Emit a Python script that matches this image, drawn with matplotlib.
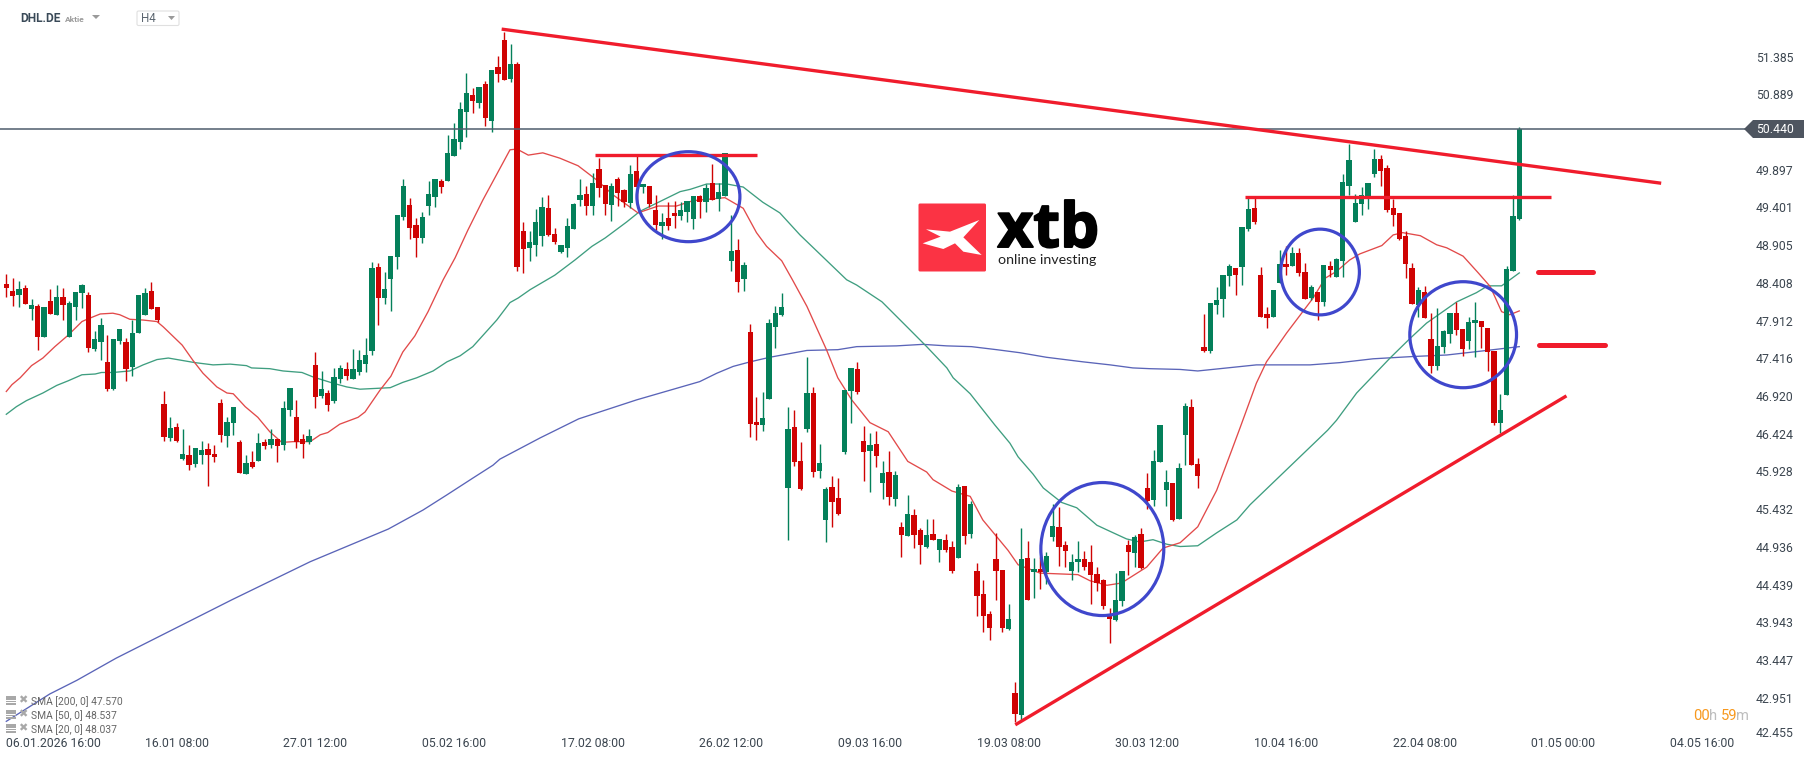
import matplotlib
matplotlib.use('Agg')
import numpy as np
import matplotlib.pyplot as plt
import matplotlib.patheffects as pe
from matplotlib.patches import Ellipse, Polygon, Rectangle, FancyBboxPatch
from matplotlib.transforms import ScaledTranslation

plt.rcParams['font.family'] = ['Roboto', 'DejaVu Sans']

# H4 candles
opens = [48.39,48.30,48.25,48.34,48.07,48.10,47.70,48.17,47.99,48.22,
         47.70,48.09,48.28,48.25,47.54,47.63,47.37,47.01,47.64,47.63,
         47.30,47.75,47.99,48.30,48.09,46.82,46.37,46.51,46.09,46.14,
         46.03,46.14,46.22,46.16,46.83,46.39,46.57,46.32,45.89,46.05,
         46.07,46.32,46.28,46.36,46.28,46.74,46.64,46.36,46.32,47.33,
         46.92,46.96,46.86,47.14,47.28,47.14,47.24,47.34,47.51,48.62,
         48.21,48.46,48.75,49.28,49.43,49.17,49.00,49.42,49.54,49.75,
         49.75,50.08,50.26,50.66,50.88,50.78,51.03,50.54,51.25,51.60,
         51.09,51.29,49.09,48.87,48.91,49.03,49.39,49.05,48.82,48.87,
         49.12,49.50,49.58,49.42,49.91,49.70,49.43,49.78,49.63,49.46,
         49.88,49.67,49.68,49.37,49.16,49.26,49.33,49.29,49.34,49.25,
         49.55,49.47,49.72,49.51,49.55,48.70,48.84,48.46,47.76,46.58,
         46.54,46.88,47.83,47.99,45.71,46.51,46.07,46.49,46.96,45.93,
         45.29,45.72,45.58,46.18,46.99,47.28,46.33,46.20,46.29,45.78,
         45.92,45.56,45.20,45.08,45.36,45.16,44.93,45.10,44.89,45.03,
         44.93,44.79,45.74,45.10,44.62,44.32,44.05,44.78,44.63,43.86,
         43.01,42.72,44.79,44.60,44.64,44.60,45.07,45.20,44.96,44.62,
         44.74,44.78,44.74,44.58,44.50,44.03,43.97,44.22,44.96,44.86,
         45.11,45.71,45.55,46.05,45.68,45.78,45.30,46.41,46.78,46.03,
         47.56,47.51,48.12,48.20,48.50,48.60,48.62,49.12,49.39,48.51,
         48.00,47.96,48.41,48.66,48.63,48.80,48.55,48.21,48.29,48.16,
         48.63,48.49,48.70,49.68,49.21,49.45,49.55,49.84,50.04,49.92,
         49.39,49.33,49.03,48.60,48.12,48.29,47.67,47.31,47.56,47.74,
         48.01,47.80,47.64,47.88,47.91,47.81,47.51,46.56,46.93,48.56,49.25]
closes = [48.34,48.24,48.33,48.13,48.12,47.70,48.09,48.00,48.22,48.12,
          48.14,48.29,48.38,47.55,47.67,47.86,47.01,47.67,47.80,47.28,
          47.75,48.25,48.28,48.07,47.92,46.38,46.50,46.33,46.16,46.01,
          46.24,46.21,46.14,46.12,46.41,46.58,46.78,45.91,46.04,45.99,
          46.30,46.26,46.36,46.26,46.76,47.03,46.32,46.29,46.40,46.91,
          47.01,46.80,47.17,47.29,47.18,47.28,47.39,47.46,48.61,48.21,
          48.33,48.76,49.30,49.68,49.13,49.00,49.28,49.58,49.78,49.67,
          50.12,50.30,50.70,50.91,50.80,50.99,50.58,51.21,51.16,51.08,
          51.29,48.62,48.85,48.95,49.21,49.41,49.04,48.95,48.91,49.16,
          49.45,49.57,49.42,49.72,49.66,49.45,49.68,49.59,49.47,49.84,
          49.67,49.71,49.45,49.17,49.21,49.16,49.29,49.37,49.49,49.55,
          49.47,49.66,49.50,49.61,50.12,48.83,48.42,48.64,46.55,46.54,
          46.63,47.88,48.01,48.09,46.49,46.05,45.70,46.96,45.92,46.04,
          45.70,45.53,45.37,47.00,47.29,46.97,46.18,46.28,46.13,45.91,
          45.59,45.88,45.09,45.37,45.09,44.96,45.09,45.03,45.04,44.89,
          44.62,45.72,45.08,45.50,44.29,44.03,43.87,44.62,43.87,43.99,
          42.74,44.78,44.24,44.64,44.60,44.82,45.21,44.93,44.88,44.74,
          44.78,44.67,44.57,44.46,44.16,43.99,44.24,44.62,44.87,45.07,
          44.66,45.54,46.07,46.54,45.79,45.29,45.97,46.79,46.01,45.87,
          47.51,48.14,48.18,48.51,48.63,48.51,49.14,49.38,49.21,47.96,
          47.95,48.31,48.66,48.62,48.80,48.54,48.20,48.35,48.16,48.64,
          48.58,48.72,49.74,50.03,49.46,49.57,49.72,50.04,49.88,49.37,
          49.30,48.99,48.66,48.13,48.31,47.95,47.31,47.58,47.78,48.01,
          47.79,47.54,47.89,47.92,47.83,47.50,46.56,46.74,48.59,49.29,50.44]
highs = [48.53,48.47,48.43,48.38,48.20,48.13,48.09,48.33,48.38,48.34,
         48.17,48.29,48.39,48.29,47.78,47.95,47.72,47.67,47.80,47.68,
         47.92,48.25,48.34,48.42,48.09,46.99,46.64,46.57,46.49,46.28,
         46.24,46.33,46.30,46.28,46.88,46.64,46.78,46.34,46.14,46.20,
         46.43,46.36,46.49,46.36,46.86,47.03,46.87,46.42,46.49,47.50,
         47.25,47.00,47.29,47.33,47.37,47.54,47.53,47.68,48.68,48.67,
         48.55,48.76,49.30,49.78,49.53,49.26,49.34,49.75,49.78,49.78,
         50.35,50.51,50.79,51.17,50.97,50.99,51.07,51.21,51.39,51.71,
         51.55,51.32,49.21,49.09,49.38,49.54,49.57,49.13,48.91,49.26,
         49.46,49.78,49.68,49.86,50.05,49.70,49.72,49.80,49.64,49.96,
         50.08,49.71,49.68,49.57,49.33,49.47,49.49,49.47,49.49,49.55,
         49.57,49.71,49.97,49.72,50.12,49.30,48.99,48.68,47.87,46.91,
         46.97,47.93,48.10,48.28,46.78,46.74,46.32,47.43,47.04,46.29,
         45.72,45.87,45.84,47.00,47.29,47.37,46.53,46.43,46.46,46.07,
         46.20,45.93,45.26,45.62,45.43,45.18,45.30,45.30,45.04,45.10,
         45.01,45.76,45.74,45.54,44.72,44.50,44.09,45.12,44.63,44.18,
         43.16,45.18,45.01,44.79,44.80,44.87,45.50,45.46,45.01,44.84,
         45.01,44.88,44.96,44.67,44.51,44.13,44.59,44.62,45.03,45.09,
         45.18,45.91,46.21,46.54,45.95,45.78,46.04,46.83,46.88,46.11,
         48.00,48.14,48.35,48.51,48.66,48.60,49.14,49.52,49.52,48.62,
         48.09,48.31,48.84,48.89,48.88,48.87,48.67,48.38,48.29,48.64,
         48.70,48.74,49.84,50.24,49.58,49.67,49.72,50.17,50.09,49.96,
         49.51,49.33,49.09,48.67,48.35,48.37,48.01,48.08,47.79,48.01,
         48.16,47.80,47.96,48.16,47.91,47.81,47.51,46.95,48.63,49.57,50.46]
lows = [48.22,48.10,48.09,48.13,47.92,47.53,47.70,48.00,47.99,47.92,
        47.70,47.92,48.08,47.50,47.51,47.39,46.99,47.00,47.61,47.12,
        47.18,47.75,47.99,48.07,47.89,46.33,46.33,46.32,46.08,45.95,
        45.99,46.03,45.74,46.05,46.32,46.25,46.41,45.91,45.89,45.97,
        46.07,46.22,46.24,46.05,46.21,46.66,46.24,46.11,46.29,46.76,
        46.89,46.72,46.83,47.09,47.13,47.14,47.20,47.24,47.46,47.86,
        48.13,48.04,48.59,49.24,48.99,48.75,48.93,49.30,49.41,49.59,
        49.75,50.08,50.17,50.33,50.64,50.71,50.47,50.39,51.05,51.08,
        51.05,48.57,48.54,48.70,48.76,48.89,49.03,48.92,48.80,48.75,
        49.12,49.42,49.30,49.30,49.54,49.30,49.22,49.42,49.41,49.39,
        49.43,49.59,49.41,49.11,48.99,49.11,49.13,49.24,49.21,49.12,
        49.26,49.34,49.50,49.36,49.55,48.57,48.29,48.30,46.38,46.34,
        46.46,46.88,47.55,47.97,45.03,46.00,45.68,46.45,45.86,45.84,
        45.00,45.20,45.36,46.16,46.57,46.95,45.80,45.66,45.99,45.56,
        45.49,45.47,44.80,45.08,44.92,44.71,44.92,45.03,44.74,44.87,
        44.59,44.79,44.97,45.05,44.03,43.82,43.71,44.24,43.82,43.84,
        42.63,42.66,44.24,44.26,44.38,44.45,45.01,44.68,44.67,44.50,
        44.60,44.63,44.18,44.36,44.12,43.67,43.96,44.16,44.57,44.67,
        44.64,45.43,45.47,46.05,45.47,45.28,45.30,46.01,46.01,45.71,
        47.50,47.49,48.00,47.96,48.37,48.25,48.38,49.09,49.18,47.96,
        47.81,47.96,48.41,48.51,48.63,48.50,48.20,48.18,47.92,48.10,
        48.49,48.49,48.49,49.57,49.21,49.30,49.38,49.80,49.68,49.34,
        49.16,48.97,48.47,48.13,47.96,47.95,47.22,47.26,47.49,47.62,
        47.72,47.45,47.54,47.43,47.55,47.25,46.54,46.43,46.93,48.56,49.24]

# moving averages, vertices (candle number, price)
sma20_i = [0,0.9,2.2,4,5.8,7.7,9.8,12,12.8,14.9,16.9,18,19.6,21.7,23.9,24.9,27.9,29.6,31.2,33.4,
           35,36,37.9,39.9,41.8,43.7,45.5,48.2,49.8,51,52.9,55.8,56.9,59.3,61,62.9,64.8,66.9,69.3,71.2,
           73.2,75.6,79.9,81,82.8,85.1,87.8,90.7,93.7,96.2,100.2,103.4,106.3,108.9,114,116.9,119,120.6,123,124.7,
           127,130.1,131.9,134.1,137,139.9,143,146,147,150,152.9,154.9,157.1,158.9,160.5,164,170,171.9,174.6,176.9,
           180.9,183.5,186.2,189,192,194.4,195.7,198.3,199.9,203.1,207.3,209.2,211,213.1,214.7,218.2,220,221.5,224.3,226.9,
           228.5,231.1,233.5,235.4,237.2,238.5,240]
sma20_p = [46.98,47.07,47.16,47.32,47.42,47.57,47.72,47.90,47.93,48.00,48.01,47.99,47.93,47.92,47.90,47.83,47.59,47.39,47.22,47.04,
           46.96,46.95,46.78,46.64,46.45,46.31,46.32,46.32,46.41,46.44,46.55,46.64,46.71,47.00,47.18,47.50,47.71,48.03,48.45,48.74,
           49.10,49.50,50.16,50.17,50.09,50.12,50.05,49.95,49.76,49.57,49.33,49.42,49.42,49.49,49.53,49.39,49.07,48.89,48.70,48.45,
           48.10,47.53,47.16,46.87,46.57,46.45,46.06,45.92,45.82,45.67,45.60,45.29,45.07,44.89,44.70,44.59,44.57,44.49,44.43,44.46,
           44.67,44.92,44.99,45.20,45.68,46.21,46.50,47.09,47.37,47.75,48.21,48.47,48.56,48.71,48.79,48.90,49.04,49.07,49.03,48.91,
           48.87,48.76,48.54,48.36,48.03,47.99,48.04]

sma50_i = [0,1.6,3.2,5.8,8,9.8,12,14.1,15.1,16.9,19.6,21.7,23.9,25.7,29.9,32.8,35.5,38.1,38.9,41.8,
           43.9,46.9,48.7,51.8,54,56.1,60.9,62.9,65.1,67.7,69.9,72,74,77.8,79.9,81.2,83.1,87,90.2,92.9,
           95,98.4,100.5,103.7,106.9,108.5,111.1,114.3,116.9,120,122.7,125.9,133.3,134.9,138.9,143,146,149.2,150.2,152.9,
           156.8,159.2,160.5,162.9,164.5,167.4,169.8,173,175.6,177.7,179.8,181.9,184.1,186.2,189,192,195.2,197.3,209.6,211,
           214.2,219.5,222.7,225.3,230.1,233.2,235,237.2,240]
sma50_p = [46.68,46.78,46.86,46.96,47.06,47.12,47.20,47.21,47.23,47.23,47.25,47.33,47.40,47.42,47.36,47.33,47.34,47.32,47.29,47.28,
           47.25,47.23,47.17,47.09,47.04,47.01,47.03,47.10,47.16,47.25,47.37,47.45,47.57,47.92,48.15,48.21,48.32,48.51,48.71,48.89,
           49.00,49.21,49.35,49.48,49.61,49.64,49.71,49.71,49.67,49.47,49.33,49.04,48.45,48.38,48.16,47.82,47.57,47.29,47.16,46.95,
           46.54,46.30,46.12,45.89,45.71,45.52,45.45,45.22,45.12,45.04,45.00,45.03,44.97,44.94,44.95,45.12,45.29,45.49,46.47,46.60,
           46.96,47.42,47.68,47.88,48.16,48.28,48.37,48.37,48.54]

sma200_i = [0,6.9,11.2,17.4,35.8,48.2,60.6,66.1,69.9,74,77.2,78.3,84.7,90.8,100,110,112.7,115.3,118,121.1,
            127,131.9,134.9,141.2,145.4,149.2,153.1,157.1,160.8,165,170.8,175.1,178.7,181.4,186.2,189,192.5,198.3,206.8,211.6,
            216.8,223.1,228.5,233.8,240]
sma200_p = [42.64,43.00,43.18,43.47,44.24,44.74,45.17,45.42,45.62,45.84,46.01,46.09,46.37,46.62,46.87,47.11,47.22,47.31,47.37,47.43,
            47.52,47.53,47.57,47.58,47.60,47.58,47.57,47.53,47.49,47.43,47.37,47.33,47.29,47.28,47.27,47.25,47.28,47.33,47.33,47.36,
            47.41,47.44,47.46,47.51,47.57]

# hand drawn trend lines and levels
resist_i, resist_p = [78.84, 262.25], [51.745, 49.723]
support_i, support_p = [160.28, 247.26], [42.605, 46.911]
levels = [(93.38, 119.03, 50.088), (196.49, 244.99, 49.535)]
short_levels = [(243.0, 251.65, 48.548), (243.2, 253.6, 47.587)]
circles = [(108.2, 49.543, 16.34, 1.184), (173.86, 44.907, 19.5, 1.75),
           (208.4, 48.552, 12.48, 1.128), (231.1, 47.727, 16.93, 1.395)]
last_price = 50.44

# axes labels
x_ticks = [0, 27, 49, 71, 93, 115, 137, 159, 181, 203, 225, 247, 269]
x_labels = ['06.01.2026 16:00', '16.01 08:00', '27.01 12:00', '05.02 16:00', '17.02 08:00', '26.02 12:00',
            '09.03 16:00', '19.03 08:00', '30.03 12:00', '10.04 16:00', '22.04 08:00', '01.05 00:00', '04.05 16:00']
y_ticks = [51.385, 50.889, 49.897, 49.401, 48.905, 48.408, 47.912, 47.416, 46.920, 46.424,
           45.928, 45.432, 44.936, 44.439, 43.943, 43.447, 42.951, 42.455]

RED = '#cf0303'
GREEN = '#04805a'
TEXT = '#3c4650'
DRAW_RED = '#f01c2c'
DRAW_BLUE = '#3f47cc'

fig = plt.figure(figsize=(18.16, 7.61), dpi=100)
ax = fig.add_axes([0, 0, 1, 1])
ax.set_xlim(-1.0, 287.07)
ax.set_ylim(42.118, 52.131)
for s in ax.spines.values():
    s.set_visible(False)

idx = np.arange(len(opens))
o = np.array(opens)
c = np.array(closes)
colors = [GREEN if c[k] >= o[k] else RED for k in idx]

ax.plot(sma200_i, sma200_p, color='#5a64b8', lw=0.95, zorder=2)
ax.plot(sma50_i, sma50_p, color='#3f9e80', lw=0.95, zorder=2)
ax.plot(sma20_i, sma20_p, color='#e24a4a', lw=0.95, zorder=2)

# candles
ax.vlines(idx, lows, highs, colors=colors, lw=1.0, zorder=3)
ax.bar(idx, np.abs(c - o), bottom=np.minimum(o, c), width=0.84, color=colors, linewidth=0, zorder=3)

ax.hlines(last_price, -1, 275.9, color='#4e5d6c', lw=1.1, zorder=4)

# drawings on top
ax.plot(resist_i, resist_p, color=DRAW_RED, lw=2.4, zorder=5)
ax.plot(support_i, support_p, color=DRAW_RED, lw=2.4, zorder=5)
for x0, x1, p in levels:
    ax.plot([x0, x1], [p, p], color=DRAW_RED, lw=2.4, zorder=5, solid_capstyle='butt')
for x0, x1, p in short_levels:
    ax.plot([x0, x1], [p, p], color=DRAW_RED, lw=3.6, zorder=5, solid_capstyle='round')
for cx, cy, w, h in circles:
    ax.add_patch(Ellipse((cx, cy), w, h, fill=False, edgecolor=DRAW_BLUE, lw=2.3, zorder=6))

# tick labels sit inside the figure, like on the platform
ax.xaxis.tick_bottom()
ax.set_xticks(x_ticks)
ax.set_xticklabels(x_labels)
ax.yaxis.tick_right()
ax.set_yticks(y_ticks)
ax.set_yticklabels([f'{v:.3f}' for v in y_ticks])
ax.tick_params(axis='x', length=0, pad=-17.5, labelsize=8.8, labelcolor=TEXT)
ax.tick_params(axis='y', length=0, pad=-43.2, labelsize=8.8, labelcolor=TEXT)
ax.get_xticklabels()[0].set_ha('left')
low_label = ax.get_yticklabels()[-1]
low_label.set_transform(low_label.get_transform() + ScaledTranslation(0, 3.7 / 100, fig.dpi_scale_trans))

# overlay in pixels for the platform furniture and the logo
px = fig.add_axes([0, 0, 1, 1], facecolor='none')
px.set_xlim(0, 1816)
px.set_ylim(761, 0)
px.axis('off')

# price tag
px.add_patch(Polygon([(1744, 129), (1753, 120), (1804, 120), (1804, 138), (1753, 138)], color='#4e5560', lw=0))
px.text(1756, 129.5, '50.440', color='white', fontsize=8.8, va='center', ha='left')

# header
px.text(20, 18.5, 'DHL.DE', color='#3a4a58', fontsize=8.6, fontweight='bold', va='center')
px.text(65, 19, 'Aktie', color='#9a9a9a', fontsize=6, fontweight='bold', va='center')
px.add_patch(Polygon([(92, 15), (100, 15), (96, 19)], color='#9a9a9a', lw=0))
px.add_patch(FancyBboxPatch((137, 11), 42, 14.5, boxstyle='round,pad=0,rounding_size=1.5',
                            facecolor='white', edgecolor='#e0e0e0', lw=0.8))
px.text(141.5, 19, 'H4', color='#5c6670', fontsize=8.4, va='center')
px.add_patch(Polygon([(168, 16), (175, 16), (171.5, 20)], color='#9a9a9a', lw=0))

# SMA legend
for y, label in [(701, 'SMA [200, 0] 47.570'), (715, 'SMA [50, 0] 48.537'), (729.3, 'SMA [20, 0] 48.037')]:
    px.add_patch(Rectangle((6, y - 5), 10, 3.5, color='#a8a8a8', lw=0))
    px.add_patch(Rectangle((6, y - 0.5), 10, 1.5, color='#a8a8a8', lw=0))
    px.add_patch(Rectangle((6, y + 2), 10, 1.5, color='#a8a8a8', lw=0))
    px.text(23, y - 1, '\u2716', color='#a8a8a8', fontsize=8, ha='center', va='center', family='DejaVu Sans')
    px.text(31, y + 0.5, label, color='#666666', fontsize=7.35, va='center')

# countdown
for x, s, col in [(1693, '00', '#f7981d'), (1708.7, 'h', '#bdbdbd'), (1720.7, '59', '#f7981d'), (1736, 'm', '#bdbdbd')]:
    px.text(x, 716, s, color=col, fontsize=10.6, va='center', ha='left')

# xtb logo
px.add_patch(FancyBboxPatch((918.5, 203.5), 67.5, 68, boxstyle='round,pad=0,rounding_size=1.5',
                            facecolor='#fb3344', edgecolor='none'))
logo_x = [78, 150, 238, 190, 245, 190, 165, 130, 68, 122]
logo_y = [118, 125, 90, 142, 195, 185, 160, 177, 160, 140]
px.add_patch(Polygon([(900 + a / 3, 190 + b / 3) for a, b in zip(logo_x, logo_y)], color='white', lw=0))
px.text(997.5, 247, 'xtb', color='black', fontsize=44.5, fontweight='bold', family='Open Sans', va='baseline', ha='left',
        path_effects=[pe.withStroke(linewidth=1.4, foreground='black')])
px.text(998, 264, 'online investing', color='#222222', fontsize=10.3, family='Lato', va='baseline', ha='left')

fig.savefig('out.png', dpi=100)
